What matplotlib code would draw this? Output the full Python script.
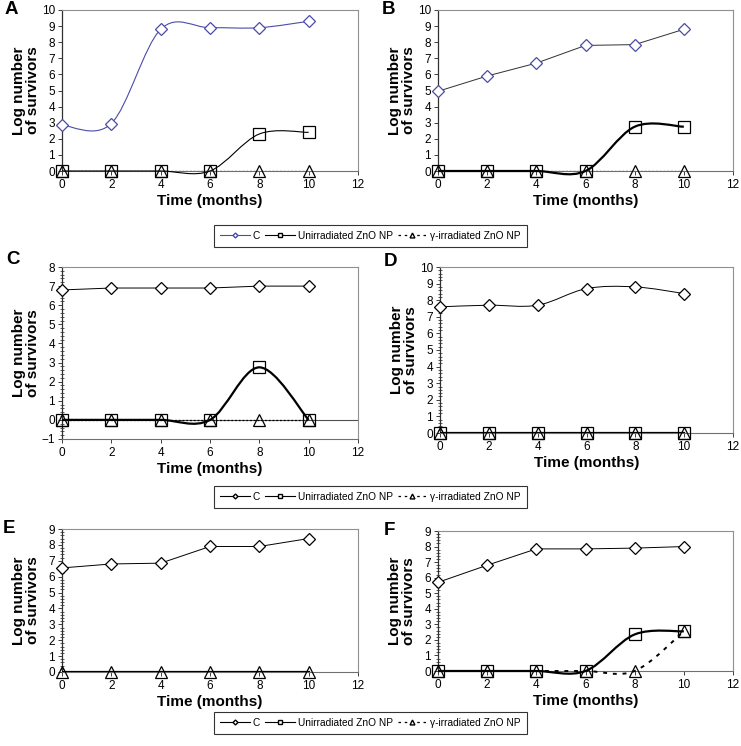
import numpy as np
import matplotlib
matplotlib.use('Agg')
import matplotlib.pyplot as plt
from matplotlib.path import Path
from matplotlib.patches import PathPatch
from matplotlib.lines import Line2D
from matplotlib.ticker import MultipleLocator

plt.rcParams['font.family'] = ['Liberation Sans', 'DejaVu Sans']

months = [0, 2, 4, 6, 8, 10]

# Panel A
a_c = [2.85, 2.95, 8.8, 8.9, 8.9, 9.3]
a_unirr = [0, 0, 0, 0, 2.3, 2.4]
a_gamma = [0, 0, 0, 0, 0, 0]
# Panel B
b_c = [4.95, 5.9, 6.7, 7.8, 7.85, 8.8]
b_unirr = [0, 0, 0, 0, 2.75, 2.75]
b_gamma = [0, 0, 0, 0, 0, 0]
# Panel C
c_c = [6.8, 6.9, 6.9, 6.9, 7.0, 7.0]
c_unirr = [0, 0, 0, 0, 2.75, 0]
c_gamma = [0, 0, 0, 0, 0, 0]
# Panel D
d_c = [7.6, 7.7, 7.7, 8.7, 8.8, 8.4]
d_unirr = [0, 0, 0, 0, 0, 0]
d_gamma = [0, 0, 0, 0, 0, 0]
# Panel E (no unirradiated series drawn)
e_c = [6.55, 6.8, 6.85, 7.9, 7.9, 8.4]
e_gamma = [0, 0, 0, 0, 0, 0]
# Panel F
f_c = [5.7, 6.8, 7.85, 7.85, 7.9, 8.0]
f_unirr = [0, 0, 0, 0, 2.35, 2.55]
f_gamma = [0, 0, 0, 0, 0, 2.55]

legend_labels = ['C', 'Unirradiated ZnO NP', '\u03b3-irradiated ZnO NP']

BLUE = '#4b4ba8'
W, H = 741, 746


def smooth_path(x, y):
    # Excel-like smoothed line: cubic bezier through the points
    pts = np.column_stack([x, y]).astype(float)
    n = len(pts)
    verts = [pts[0]]
    codes = [Path.MOVETO]
    for i in range(n - 1):
        p0 = pts[i - 1] if i > 0 else pts[i]
        p1 = pts[i]
        p2 = pts[i + 1]
        p3 = pts[i + 2] if i + 2 < n else pts[i + 1]
        verts += [p1 + (p2 - p0) / 6, p2 - (p3 - p1) / 6, p2]
        codes += [Path.CURVE4] * 3
    return Path(verts, codes)


def draw_series(ax, y, smooth, color, lw, ls, marker, ms, mfc, mec, z):
    if smooth:
        ax.add_patch(PathPatch(smooth_path(months, y), fill=False, edgecolor=color,
                               lw=lw, linestyle=ls, zorder=z, clip_on=False))
    else:
        ax.plot(months, y, color=color, lw=lw, ls=ls, zorder=z)
    ax.plot(months, y, ls='none', marker=marker, ms=ms, mfc=mfc, mec=mec,
            mew=0.9, zorder=z + 0.5, clip_on=False)


def make_axes(px_left, px_top, px_right, px_bottom, ylim, minor):
    ax = fig.add_axes([px_left / W, 1 - px_bottom / H,
                       (px_right - px_left) / W, (px_bottom - px_top) / H])
    ax.set_xlim(0, 12)
    ax.set_ylim(*ylim)
    ax.xaxis.set_major_locator(MultipleLocator(2))
    ax.yaxis.set_major_locator(MultipleLocator(1))
    if minor:
        ax.yaxis.set_minor_locator(MultipleLocator(0.2))
        ax.tick_params(axis='y', which='minor', length=2.5, direction='inout',
                       width=0.6, color='#404040')
    ax.tick_params(axis='both', which='major', labelsize=8.5, length=3, width=0.7,
                   pad=2, color='#404040')
    ax.tick_params(axis='x', pad=3)
    for s in ['top', 'right']:
        ax.spines[s].set_color('#909090')
        ax.spines[s].set_linewidth(0.8)
    ax.spines['left'].set_color('#303030')
    ax.spines['left'].set_linewidth(0.9)
    ax.spines['bottom'].set_color('#707070')
    ax.spines['bottom'].set_linewidth(0.8)
    ax.set_xlabel('Time (months)', fontsize=11, fontweight='bold', labelpad=2)
    ax.set_ylabel('Log number\nof survivors', fontsize=11, fontweight='bold',
                  linespacing=1.0)
    ax.yaxis.set_label_coords(-0.075, 0.5)
    return ax


fig = plt.figure(figsize=(W / 100, H / 100), dpi=100)

D_MS, S_MS, T_MS = 6.2, 8.6, 8.4

# A
ax = make_axes(62, 10, 358, 171, (0, 10), False)
draw_series(ax, a_c, True, BLUE, 0.8, '-', 'D', D_MS, 'white', BLUE, 3)
draw_series(ax, a_unirr, True, 'black', 0.8, '-', 's', S_MS, 'none', 'black', 4)
draw_series(ax, a_gamma, False, 'black', 0.9, (0, (1.5, 1.5)), '^', T_MS, 'none', 'black', 5)

# B
ax = make_axes(438, 10, 733, 171, (0, 10), False)
draw_series(ax, b_c, False, '#303030', 0.7, '-', 'D', D_MS, 'white', BLUE, 3)
draw_series(ax, b_unirr, True, 'black', 1.6, '-', 's', S_MS, 'none', 'black', 4)
draw_series(ax, b_gamma, False, 'black', 0.9, (0, (1.5, 1.5)), '^', T_MS, 'none', 'black', 3.8)

# C
ax = make_axes(62, 267, 358, 439, (-1, 8), True)
ax.axhline(0, color='#505050', lw=0.8, zorder=2)
draw_series(ax, c_c, False, 'black', 0.7, '-', 'D', D_MS, 'white', 'black', 3)
draw_series(ax, c_unirr, True, 'black', 1.6, '-', 's', S_MS, 'none', 'black', 4)
draw_series(ax, c_gamma, False, 'black', 0.9, (0, (1.5, 1.5)), '^', T_MS, 'none', 'black', 3.8)

# D
ax = make_axes(440, 267, 733, 433, (0, 10), True)
draw_series(ax, d_c, True, 'black', 0.7, '-', 'D', D_MS, 'white', 'black', 3)
draw_series(ax, d_unirr, False, 'black', 1.6, '-', 's', S_MS, 'none', 'black', 4)
draw_series(ax, d_gamma, False, 'black', 0.9, (0, (1.5, 1.5)), '^', T_MS, 'none', 'black', 3.8)

# E
ax = make_axes(62, 529, 358, 672, (0, 9), True)
draw_series(ax, e_c, False, 'black', 0.7, '-', 'D', D_MS, 'white', 'black', 3)
draw_series(ax, e_gamma, False, 'black', 1.6, '-', '^', T_MS, 'none', 'black', 4)

# F
ax = make_axes(438, 531, 733, 671, (0, 9), True)
draw_series(ax, f_c, False, 'black', 0.7, '-', 'D', D_MS, 'white', 'black', 3)
draw_series(ax, f_unirr, True, 'black', 1.6, '-', 's', S_MS, 'none', 'black', 4)
draw_series(ax, f_gamma, True, 'black', 1.4, (0, (2, 3)), '^', T_MS, 'none', 'black', 3.8)

# panel letters
for letter, (px, py) in zip('ABCDEF', [(5, 1), (382, 1), (6, 251), (384, 253), (3, 520), (384, 522)]):
    fig.text(px / W, 1 - py / H, letter, fontsize=13.5, fontweight='bold', ha='left', va='top')


def add_legend(y_center, c_color):
    handles = [
        Line2D([], [], color=c_color, lw=0.8, marker='D', ms=2.5, mfc='white', mec=c_color),
        Line2D([], [], color='black', lw=0.8, marker='s', ms=3, mfc='white', mec='black'),
        Line2D([], [], color='black', lw=0.9, ls=(0, (2, 3)), marker='^', ms=3.5,
               mfc='white', mec='black'),
    ]
    leg = fig.legend(handles, legend_labels, loc='center', bbox_to_anchor=(0.5, 1 - y_center / H),
                     ncol=3, fontsize=7.3, frameon=True, fancybox=False, handlelength=2.9,
                     handletextpad=0.3, columnspacing=0.5, borderpad=0.6,
                     borderaxespad=0)
    leg.get_frame().set_edgecolor('black')
    leg.get_frame().set_linewidth(0.8)


add_legend(236, BLUE)
add_legend(497, 'black')
add_legend(723, 'black')

fig.savefig('out.png', dpi=100)
